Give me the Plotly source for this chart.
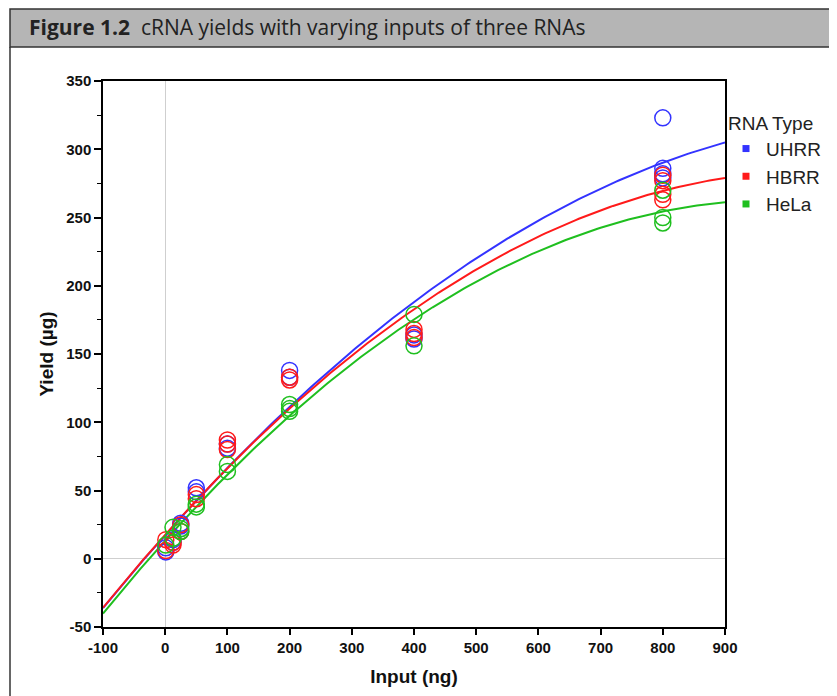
import numpy as np
import plotly.graph_objects as go

# ---- data ----
uhrr_input = [1, 1, 12.5, 12.5, 25, 25, 50, 50, 100, 100, 200, 200, 400, 400, 800, 800, 800, 800]
uhrr_yield = [5, 8, 12, 14, 24, 26, 52, 49, 84, 81, 138, 133, 164, 161, 323, 286, 282, 279]

hbrr_input = [1, 1, 12.5, 12.5, 25, 25, 50, 50, 100, 100, 100, 200, 200, 400, 400, 400, 800, 800, 800, 800]
hbrr_yield = [14, 6, 12, 10, 25, 20, 47, 44, 87, 84, 80, 133, 131, 168, 165, 162, 281, 277, 267, 263]

hela_input = [1, 12.5, 12.5, 25, 25, 50, 50, 100, 100, 200, 200, 200, 400, 400, 800, 800, 800]
hela_yield = [10, 23, 15, 20, 22, 40, 38, 69, 64, 113, 110, 108, 179, 156, 270, 250, 246]

series_names = ["UHRR", "HBRR", "HeLa"]
series_colors = ["#3333ff", "#ff1a1a", "#1fbf1f"]

x_ticks = [-100, 0, 100, 200, 300, 400, 500, 600, 700, 800, 900]
x_tick_text = ["-100", "0", "100", "200", "300", "400", "500", "600", "700", "800", "900"]
y_ticks = [-50, 0, 50, 100, 150, 200, 250, 300, 350]
y_tick_text = ["-50", "0", "50", "100", "150", "200", "250", "300", "350"]

groups = [(uhrr_input, uhrr_yield), (hbrr_input, hbrr_yield), (hela_input, hela_yield)]

fig = go.Figure()
xfit = np.linspace(-100, 900, 201)
for (xs, ys), name, col in zip(groups, series_names, series_colors):
    coef = np.polyfit(xs, ys, 2)   # quadratic fit per RNA type
    fig.add_trace(go.Scatter(x=xfit, y=np.polyval(coef, xfit), mode="lines",
                             line=dict(color=col, width=2), showlegend=False,
                             hoverinfo="skip"))
for (xs, ys), name, col in zip(groups, series_names, series_colors):
    fig.add_trace(go.Scatter(x=xs, y=ys, mode="markers", name=name, showlegend=False,
                             marker=dict(symbol="circle-open", size=16,
                                         line=dict(color=col, width=1.5), color=col)))
for name, col in zip(series_names, series_colors):
    fig.add_trace(go.Scatter(x=[None], y=[None], mode="markers", name=name,
                             marker=dict(symbol="square", size=7, color=col)))

# page body offsets the figure by 8px; positions below are in reference pixels
OFF = 8
W, H = 837, 696
L, R, T, B = 103 - OFF, 837 + OFF - 725, 81 - OFF, 696 + OFF - 627
pw, ph = W - L - R, H - T - B
def px(x):
    return (x - OFF - L) / pw
def py(y):
    return (H - B - (y - OFF)) / ph

axis_font = dict(family="Liberation Sans, Arial", size=15, color="#111", weight="bold")
title_font = dict(family="Liberation Sans, Arial", size=19, color="#111", weight="bold")
legend_font = dict(family="Liberation Sans, Arial", size=19, color="#222")

fig.update_layout(
    width=W, height=H,
    margin=dict(l=L, r=R, t=T, b=B, autoexpand=False),
    paper_bgcolor="white", plot_bgcolor="white",
    xaxis=dict(range=[-100, 900], tickvals=x_ticks, ticktext=x_tick_text, ticks="outside",
               ticklen=6, tickwidth=1.5,
               tickcolor="black", showline=True, mirror=True, linecolor="black", linewidth=1.5,
               showgrid=False, zeroline=True, zerolinecolor="#cfcfcf", zerolinewidth=1,
               tickfont=axis_font,
               title=dict(text="Input (ng)", font=title_font, standoff=15)),
    yaxis=dict(range=[-50, 350], tickvals=y_ticks, ticktext=y_tick_text, ticks="outside",
               ticklen=7, tickwidth=1.5,
               tickcolor="black", showline=True, mirror=True, linecolor="black", linewidth=1.5,
               showgrid=False, zeroline=True, zerolinecolor="#cfcfcf", zerolinewidth=1,
               tickfont=axis_font,
               minor=dict(dtick=25, ticks="outside", ticklen=4, tickwidth=1, tickcolor="black",
                          showgrid=False),
               title=dict(text="Yield (µg)", font=title_font, standoff=8)),
    legend=dict(x=px(726), y=py(105), xanchor="left", yanchor="top",
                bgcolor="rgba(0,0,0,0)",
                font=legend_font,
                title=dict(text="RNA Type", font=legend_font),
                itemwidth=30, tracegroupgap=0),
    shapes=[
        dict(type="rect", xref="paper", yref="paper", x0=px(10), x1=px(850), y0=py(47), y1=py(9),
             fillcolor="#b5b5b5", line=dict(color="#333", width=1.5), layer="below"),
        dict(type="line", xref="paper", yref="paper", x0=px(10), x1=px(10), y0=py(47), y1=py(710),
             line=dict(color="#333", width=1.5)),
    ],
    annotations=[
        dict(xref="paper", yref="paper", x=px(27), y=py(27), xanchor="left", yanchor="middle",
             showarrow=False,
             text="<b>Figure 1.2</b>\u00a0\u00a0cRNA yields with varying inputs of three RNAs",
             font=dict(family="Open Sans, Noto Sans, sans-serif", size=21, color="#222")),
    ],
)

fig.write_html("out.html")
